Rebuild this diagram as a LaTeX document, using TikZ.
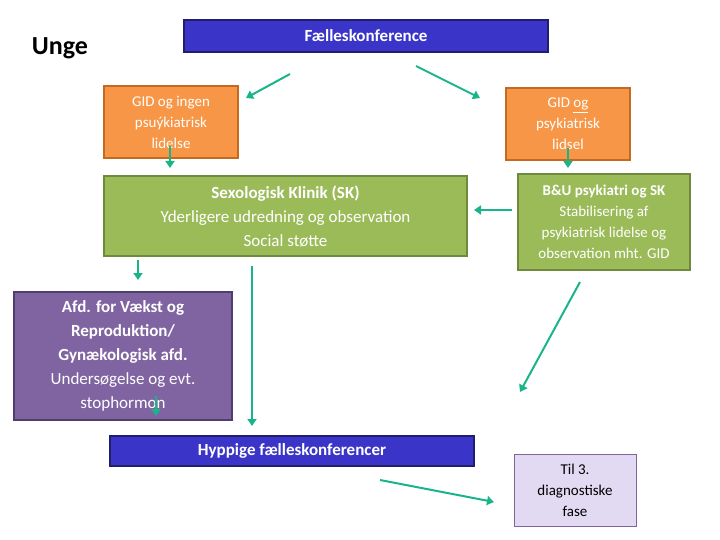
\documentclass[tikz,border=0pt]{standalone}
\usepackage{fontspec}
\setmainfont{Carlito}
\usetikzlibrary{arrows.meta}
\definecolor{bbl}{HTML}{3A35C8}
\definecolor{bblb}{HTML}{1F1F6E}
\definecolor{org}{HTML}{F79646}
\definecolor{orgb}{HTML}{C46A20}
\definecolor{grn}{HTML}{9BBB59}
\definecolor{grnb}{HTML}{6E8B3D}
\definecolor{prp}{HTML}{8064A2}
\definecolor{prpb}{HTML}{4F3D6B}
\definecolor{lav}{HTML}{E2D9F3}
\definecolor{arr}{HTML}{19B48A}
\begin{document}
\begin{tikzpicture}[x=1pt,y=-1pt,
 box/.style={draw,line width=1.5pt,inner sep=0pt,align=center,text=white},
 ar/.style={arr,line width=2pt,-{Triangle[length=7pt,width=9pt]}}]
\useasboundingbox (0,0) rectangle (720,540);
\node (unge) at (60,48) {\fontsize{26}{30}\selectfont\bfseries Unge};
\node[box,fill=bbl,draw=bblb,minimum width=364pt,minimum height=32pt,font=\fontsize{17}{20}\selectfont\bfseries] (fk) at (366,36) {Fælleskonference};
\node[box,fill=org,draw=orgb,minimum width=134pt,minimum height=72pt,font=\fontsize{15}{21}\selectfont] (ol) at (171,122) {GID og ingen\\psuýkiatrisk\\lidelse};
\node[box,fill=org,draw=orgb,minimum width=124pt,minimum height=72pt,font=\fontsize{15}{21}\selectfont] (or) at (568,124) {GID \underline{og}\\psykiatrisk\\lidsel};
\node[box,fill=grn,draw=grnb,minimum width=363pt,minimum height=80pt,font=\fontsize{17}{24}\selectfont] (gl) at (285.5,216) {\textbf{Sexologisk Klinik (SK)}\\Yderligere udredning og observation\\Social støtte};
\node[box,fill=grn,draw=grnb,minimum width=172pt,minimum height=96pt,font=\fontsize{15}{21}\selectfont] (gr) at (604,222) {\textbf{B\&U psykiatri og SK}\\Stabilisering af\\psykiatrisk lidelse og\\observation mht. GID};
\node[box,fill=prp,draw=prpb,minimum width=218pt,minimum height=128pt,font=\fontsize{17}{24}\selectfont] (pu) at (123,356) {\textbf{Afd. for Vækst og}\\\textbf{Reproduktion/}\\\textbf{Gynækologisk afd.}\\Undersøgelse og evt.\\stophormon};
\node[box,fill=bbl,draw=bblb,minimum width=364pt,minimum height=30pt,font=\fontsize{17}{20}\selectfont\bfseries] (hf) at (292,451) {Hyppige fælleskonferencer};
\node[box,fill=lav,draw=prp,line width=1pt,text=black,minimum width=122pt,minimum height=72pt,font=\fontsize{15}{21}\selectfont] (til) at (575,490) {Til 3.\\diagnostiske\\fase};
\draw[ar] (290,74) -- (246,98);
\draw[ar] (416,66) -- (480,98);
\draw[ar] (170,146) -- (170,168);
\draw[ar] (568,148) -- (568,168);
\draw[ar] (512,210) -- (474,210);
\draw[ar] (138,260) -- (138,280);
\draw[ar] (252,266) -- (252,426);
\draw[ar] (156,396) -- (156,416);
\draw[ar] (580,282) -- (520,392);
\draw[ar] (380,480) -- (494,502);
\end{tikzpicture}
\end{document}
